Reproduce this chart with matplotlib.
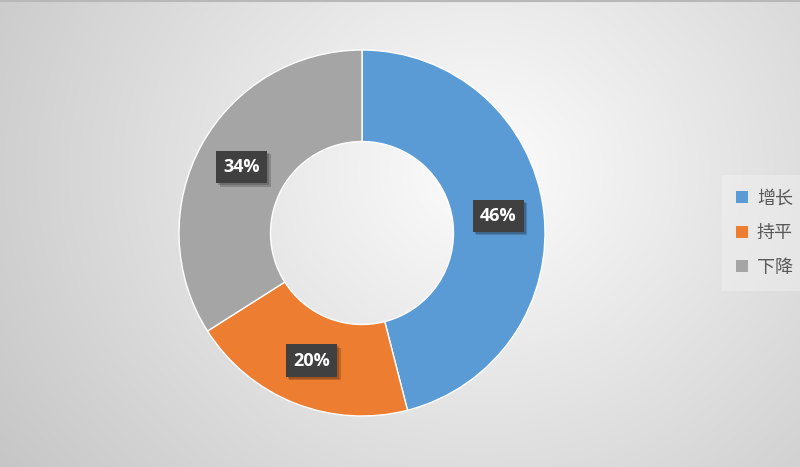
import numpy as np
import matplotlib
matplotlib.use("Agg")
import matplotlib.pyplot as plt
import matplotlib.patheffects as pe
from matplotlib.patches import Patch

plt.rcParams['font.family'] = ['Noto Sans CJK SC', 'DejaVu Sans']

categories = ['增长', '持平', '下降']
values = [46, 20, 34]
colors = ['#5B9BD5', '#ED7D31', '#A5A5A5']

W, H = 800, 467
fig = plt.figure(figsize=(W / 100, H / 100), dpi=100)

# background radial gradient
bg = fig.add_axes([0, 0, 1, 1])
yy, xx = np.mgrid[0:H, 0:W]
r = np.sqrt(((xx - 480) / 1.0) ** 2 + ((yy - 170) / 0.9) ** 2)
t = np.clip(r / 600, 0, 1)
lum = 0.99 - t * (0.99 - 0.77)
img = np.dstack([lum, lum, lum])
bg.imshow(img, extent=[0, W, H, 0], aspect='auto', interpolation='bilinear')
bg.plot([0, W], [1, 1], color='#b8b8b8', lw=1.5)
bg.set_xlim(0, W)
bg.set_ylim(H, 0)
bg.axis('off')

# donut
cx, cy, R = 362, 233, 183
ax = fig.add_axes([(cx - R) / W, (H - cy - R) / H, 2 * R / W, 2 * R / H])
wedges, _ = ax.pie(values, colors=colors, startangle=90, counterclock=False,
                   radius=1.0, wedgeprops=dict(width=0.5, edgecolor='white', linewidth=1))
ax.set_xlim(-1, 1)
ax.set_ylim(-1, 1)
ax.set_aspect('equal')
ax.axis('off')

total = sum(values)
cum = 0
for v in values:
    mid = 90 - (cum + v / 2) / total * 360
    cum += v
    a = np.deg2rad(mid)
    rr = 0.75
    txt = ax.text(rr * np.cos(a), rr * np.sin(a), f'{v}%', ha='center', va='center',
                  color='white', fontsize=13, fontweight='bold', family=['Open Sans', 'DejaVu Sans'],
                  bbox=dict(boxstyle='square,pad=0.4', facecolor='#404040', edgecolor='none'))
    txt.get_bbox_patch().set_path_effects([
        pe.SimplePatchShadow(offset=(2.5, -2.5), shadow_rgbFace='#000000', alpha=0.18),
        pe.SimplePatchShadow(offset=(1.5, -1.5), shadow_rgbFace='#000000', alpha=0.18),
        pe.Normal()])

handles = [Patch(facecolor=c, edgecolor='none') for c in colors]
leg = fig.legend(handles, categories, loc='center left', bbox_to_anchor=(727 / W, 1 - 233 / H),
                 frameon=True, fontsize=13, handlelength=0.65, handleheight=0.65,
                 handletextpad=0.5, labelspacing=0.92, borderpad=0.5, borderaxespad=0)
leg.get_frame().set_facecolor('#f7f7f7')
leg.get_frame().set_alpha(0.35)
leg.get_frame().set_edgecolor('none')
leg.get_frame().set_boxstyle('square')
for tx in leg.get_texts():
    tx.set_color('#595959')

fig.savefig('out.png', dpi=100)
